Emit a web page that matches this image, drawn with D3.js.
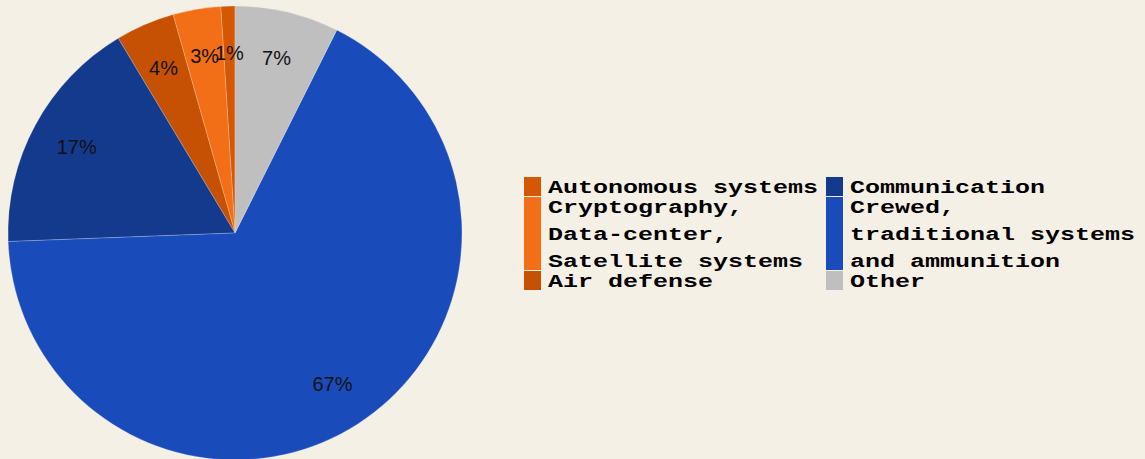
<!DOCTYPE html>
<html><head><meta charset="utf-8">
<script src="https://cdn.jsdelivr.net/npm/d3@7"></script>
<style>
html,body{margin:0;padding:0;background:#F5F0E6;}
svg{display:block;}
</style></head>
<body>
<svg id="chart" width="1145" height="459"></svg>
<script>
const categories = ["Autonomous systems", "Cryptography,\nData-center,\nSatellite systems", "Air defense", "Communication", "Crewed,\ntraditional systems\nand ammunition", "Other"];
const values = [1.0, 3.4, 4.2, 17.0, 67.0, 7.4];
const percentLabels = ["1%", "3%", "4%", "17%", "67%", "7%"];
const colors = ["#D45704", "#F36F17", "#C65102", "#143A8E", "#1A4BBA", "#BFBFBF"];

const svg = d3.select("#chart");
const cx = 235, cy = 233, R = 227, labelR = 180;

const pie = d3.pie().sort(null).startAngle(0).endAngle(-2 * Math.PI);
const arcs = pie(values);
const arc = d3.arc().innerRadius(0).outerRadius(R);
const labelArc = d3.arc().innerRadius(labelR).outerRadius(labelR);

const g = svg.append("g").attr("transform", `translate(${cx},${cy})`);
g.selectAll("path").data(arcs).join("path")
  .attr("d", arc)
  .attr("fill", (d, i) => colors[i])
  .attr("stroke", "#ffffff").attr("stroke-width", 0.6).attr("stroke-opacity", 0.35);

g.selectAll("text").data(arcs).join("text")
  .attr("transform", d => `translate(${labelArc.centroid(d)})`)
  .attr("text-anchor", "middle").attr("dy", "0.35em")
  .attr("font-family", "Liberation Sans, Arial, sans-serif")
  .attr("font-size", 20).attr("fill", "#111")
  .text((d, i) => percentLabels[i]);

// legend: two columns, three rows
const legendCols = [[0, 1, 2], [3, 4, 5]];
const colX = [524, 826];
const lineH = 27, rowBase = 20, charW = 15;
const leg = svg.append("g");
legendCols.forEach((col, ci) => {
  let y0 = 177;
  col.forEach(idx => {
    const lines = categories[idx].split("\n");
    const h = rowBase + lineH * (lines.length - 1);
    leg.append("rect").attr("x", colX[ci]).attr("y", y0).attr("width", 17).attr("height", h - 1)
      .attr("fill", colors[idx]);
    lines.forEach((ln, li) => {
      leg.append("text")
        .attr("x", colX[ci] + 24).attr("y", y0 + 16 + li * lineH)
        .attr("font-family", "Liberation Mono, Courier New, monospace")
        .attr("font-weight", "bold").attr("font-size", 18).attr("fill", "#000")
        .attr("textLength", ln.length * charW).attr("lengthAdjust", "spacingAndGlyphs")
        .text(ln);
    });
    y0 += h;
  });
});
</script>
</body></html>
